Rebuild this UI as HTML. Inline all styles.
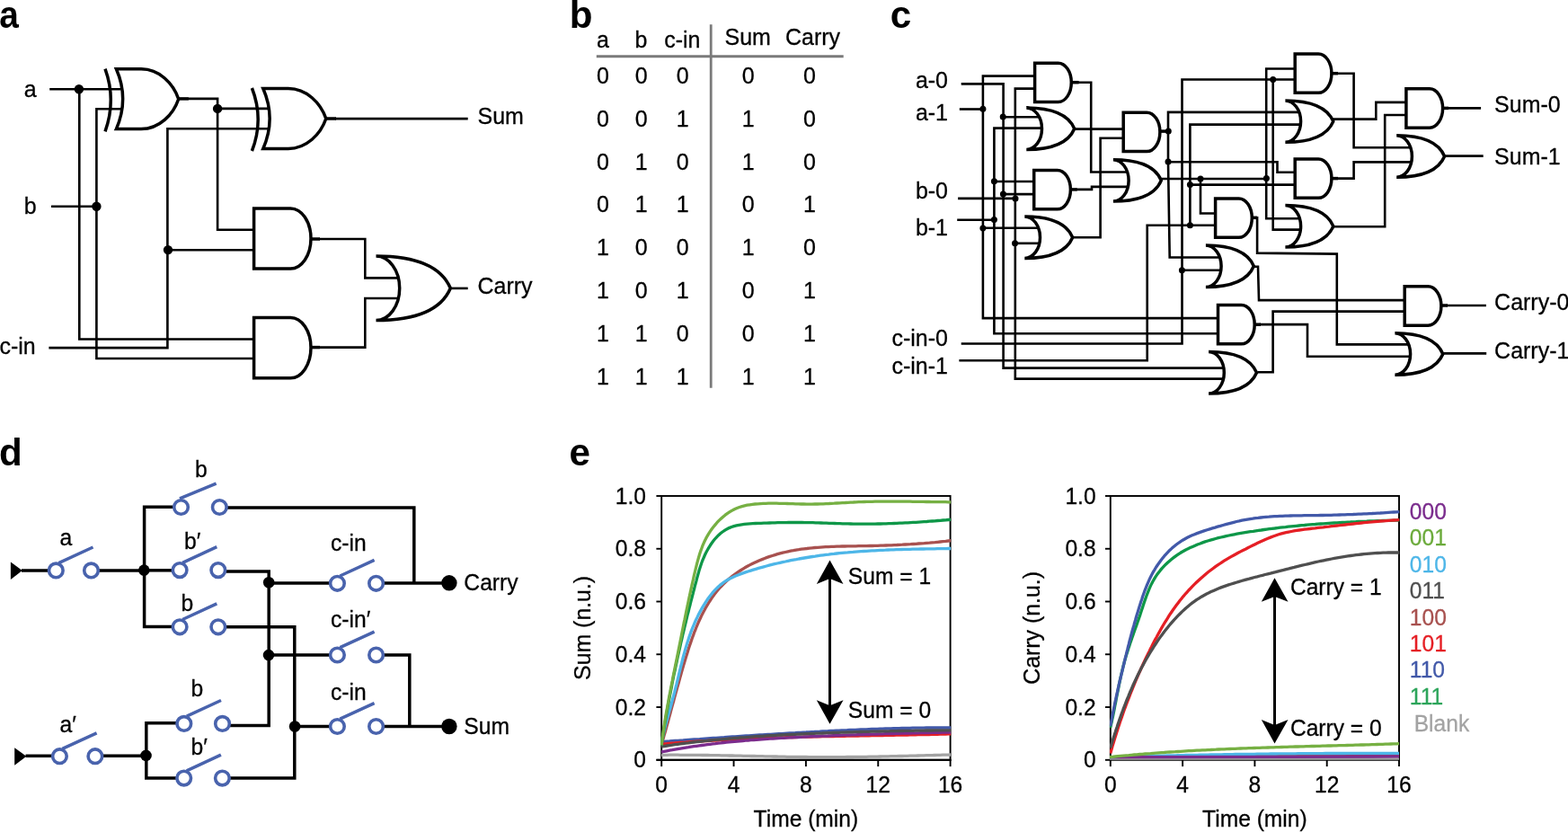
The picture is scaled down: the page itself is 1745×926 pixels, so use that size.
<!DOCTYPE html>
<html lang="en">
<head>
<meta charset="utf-8">
<title>Full adder logic circuits and switching circuit</title>
<style>
html,body{margin:0;padding:0;background:#fff;}
body{width:1745px;height:926px;overflow:hidden;}
svg{display:block;}
svg text{font-family:"Liberation Sans","DejaVu Sans",sans-serif;}
</style>
</head>
<body>
<svg width="1745" height="926" viewBox="0 0 1745 926">
<rect width="1745" height="926" fill="#fff"/>
<g id="panel-a">
<text transform="matrix(0.8995 0 0 1 -0.7 31.3)" font-size="43.16" font-weight="bold">a</text>
<text transform="matrix(0.9569 0 0 1 26.7 107.5)" font-size="26.12" stroke="#000" stroke-width="0.3">a</text>
<text transform="matrix(0.9569 0 0 1 26.7 238.4)" font-size="26.12" stroke="#000" stroke-width="0.3">b</text>
<text transform="matrix(0.9569 0 0 1 -0.5 393.8)" font-size="26.12" stroke="#000" stroke-width="0.3">c-in</text>
<text transform="matrix(0.9569 0 0 1 531.5 138.4)" font-size="26.12" stroke="#000" stroke-width="0.3">Sum</text>
<text transform="matrix(0.9569 0 0 1 531.5 326.5)" font-size="26.12" stroke="#000" stroke-width="0.3">Carry</text>
<path d="M55.2,99.3 H134" fill="none" stroke="#000" stroke-width="2.6"/>
<path d="M88.3,99.3 V377.5 H283" fill="none" stroke="#000" stroke-width="2.6"/>
<path d="M57,229.8 H107.4" fill="none" stroke="#000" stroke-width="2.6"/>
<path d="M136,121.2 H107.4 V399 H283" fill="none" stroke="#000" stroke-width="2.6"/>
<path d="M198.7,109.9 H209.7" fill="none" stroke="#000" stroke-width="3.5"/>
<path d="M209,109.9 H242.1 V255.7 H283" fill="none" stroke="#000" stroke-width="2.6"/>
<path d="M242.1,120.9 H298" fill="none" stroke="#000" stroke-width="2.6"/>
<path d="M298,143.2 H186.4 V387.1 H54.4" fill="none" stroke="#000" stroke-width="2.6"/>
<path d="M186.4,278.2 H283" fill="none" stroke="#000" stroke-width="2.6"/>
<path d="M362.5,132 H374" fill="none" stroke="#000" stroke-width="3.5"/>
<path d="M373,132.1 H520.7" fill="none" stroke="#000" stroke-width="2.6"/>
<path d="M346,266 H356" fill="none" stroke="#000" stroke-width="3.5"/>
<path d="M355,266 H406.3 V309.4 H442" fill="none" stroke="#000" stroke-width="2.6"/>
<path d="M346,386.6 H356" fill="none" stroke="#000" stroke-width="3.5"/>
<path d="M355,386.6 H406.3 V332 H442" fill="none" stroke="#000" stroke-width="2.6"/>
<path d="M500,320.9 H520.7" fill="none" stroke="#000" stroke-width="2.6"/>
<circle cx="87.9" cy="99.3" r="5.2" fill="#000"/>
<circle cx="107.4" cy="229.8" r="5.2" fill="#000"/>
<circle cx="242.1" cy="120.9" r="5.2" fill="#000"/>
<circle cx="187" cy="278.1" r="5.2" fill="#000"/>
<path d="M129.4,76.8 H157.12 C177.22,76.8 192.81,92.83 198.7,110.2 C192.81,127.57 177.22,143.6 157.12,143.6 H129.4 Q143.95,110.2 129.4,76.8 Z" fill="none" stroke="#000" stroke-width="3.5" stroke-linejoin="miter" stroke-miterlimit="10"/>
<path d="M117,76.7 Q129.6,111.5 117,146.3" fill="none" stroke="#000" stroke-width="3.5"/>
<path d="M292.8,98.5 H320.8 C341.1,98.5 356.85,114.58 362.8,132 C356.85,149.42 341.1,165.5 320.8,165.5 H292.8 Q307.5,132 292.8,98.5 Z" fill="none" stroke="#000" stroke-width="3.5" stroke-linejoin="miter" stroke-miterlimit="10"/>
<path d="M280.4,98 Q294,133 280.4,168" fill="none" stroke="#000" stroke-width="3.5"/>
<path d="M282.6,232 H323.3 C335.84,232 346,247 346,265.5 C346,284 335.84,299 323.3,299 H282.6 Z" fill="none" stroke="#000" stroke-width="3.5" stroke-linejoin="miter"/>
<path d="M282.6,353.4 H323.3 C335.84,353.4 346,368.49 346,387.1 C346,405.71 335.84,420.8 323.3,420.8 H282.6 Z" fill="none" stroke="#000" stroke-width="3.5" stroke-linejoin="miter"/>
<path d="M418.5,285 C470.66,285 493.02,301.22 501.3,320.8 C493.02,340.38 470.66,356.6 418.5,356.6 M418.5,285 A26.2,35.8 0 0 1 418.5,356.6" fill="none" stroke="#000" stroke-width="3.5" stroke-linejoin="miter" stroke-linecap="butt"/>
</g>
<g id="panel-b">
<text transform="matrix(0.9761 0 0 1 633.7 31.3)" font-size="43.16" font-weight="bold">b</text>
<text transform="matrix(0.9569 0 0 1 664 52.6)" font-size="26.12" stroke="#000" stroke-width="0.3">a</text>
<text transform="matrix(0.9569 0 0 1 706.5 52.6)" font-size="26.12" stroke="#000" stroke-width="0.3">b</text>
<text transform="matrix(0.9569 0 0 1 739.2 52.6)" font-size="26.12" stroke="#000" stroke-width="0.3">c-in</text>
<text transform="matrix(0.9569 0 0 1 806.5 50.3)" font-size="26.12" stroke="#000" stroke-width="0.3">Sum</text>
<text transform="matrix(0.9569 0 0 1 874 50.3)" font-size="26.12" stroke="#000" stroke-width="0.3">Carry</text>
<path d="M663.8,62.7 H938.7" fill="none" stroke="#7a7a7a" stroke-width="2.9"/>
<path d="M791.2,27.2 V431.7" fill="none" stroke="#7a7a7a" stroke-width="2.8"/>
<text transform="matrix(0.9569 0 0 1 670.9 92.7)" font-size="26.12" text-anchor="middle" stroke="#000" stroke-width="0.3">0</text>
<text transform="matrix(0.9569 0 0 1 713.7 92.7)" font-size="26.12" text-anchor="middle" stroke="#000" stroke-width="0.3">0</text>
<text transform="matrix(0.9569 0 0 1 759.8 92.7)" font-size="26.12" text-anchor="middle" stroke="#000" stroke-width="0.3">0</text>
<text transform="matrix(0.9569 0 0 1 832.8 92.7)" font-size="26.12" text-anchor="middle" stroke="#000" stroke-width="0.3">0</text>
<text transform="matrix(0.9569 0 0 1 901 92.7)" font-size="26.12" text-anchor="middle" stroke="#000" stroke-width="0.3">0</text>
<text transform="matrix(0.9569 0 0 1 670.9 140.6)" font-size="26.12" text-anchor="middle" stroke="#000" stroke-width="0.3">0</text>
<text transform="matrix(0.9569 0 0 1 713.7 140.6)" font-size="26.12" text-anchor="middle" stroke="#000" stroke-width="0.3">0</text>
<text transform="matrix(0.9569 0 0 1 759.8 140.6)" font-size="26.12" text-anchor="middle" stroke="#000" stroke-width="0.3">1</text>
<text transform="matrix(0.9569 0 0 1 832.8 140.6)" font-size="26.12" text-anchor="middle" stroke="#000" stroke-width="0.3">1</text>
<text transform="matrix(0.9569 0 0 1 901 140.6)" font-size="26.12" text-anchor="middle" stroke="#000" stroke-width="0.3">0</text>
<text transform="matrix(0.9569 0 0 1 670.9 188.5)" font-size="26.12" text-anchor="middle" stroke="#000" stroke-width="0.3">0</text>
<text transform="matrix(0.9569 0 0 1 713.7 188.5)" font-size="26.12" text-anchor="middle" stroke="#000" stroke-width="0.3">1</text>
<text transform="matrix(0.9569 0 0 1 759.8 188.5)" font-size="26.12" text-anchor="middle" stroke="#000" stroke-width="0.3">0</text>
<text transform="matrix(0.9569 0 0 1 832.8 188.5)" font-size="26.12" text-anchor="middle" stroke="#000" stroke-width="0.3">1</text>
<text transform="matrix(0.9569 0 0 1 901 188.5)" font-size="26.12" text-anchor="middle" stroke="#000" stroke-width="0.3">0</text>
<text transform="matrix(0.9569 0 0 1 670.9 236.4)" font-size="26.12" text-anchor="middle" stroke="#000" stroke-width="0.3">0</text>
<text transform="matrix(0.9569 0 0 1 713.7 236.4)" font-size="26.12" text-anchor="middle" stroke="#000" stroke-width="0.3">1</text>
<text transform="matrix(0.9569 0 0 1 759.8 236.4)" font-size="26.12" text-anchor="middle" stroke="#000" stroke-width="0.3">1</text>
<text transform="matrix(0.9569 0 0 1 832.8 236.4)" font-size="26.12" text-anchor="middle" stroke="#000" stroke-width="0.3">0</text>
<text transform="matrix(0.9569 0 0 1 901 236.4)" font-size="26.12" text-anchor="middle" stroke="#000" stroke-width="0.3">1</text>
<text transform="matrix(0.9569 0 0 1 670.9 284.3)" font-size="26.12" text-anchor="middle" stroke="#000" stroke-width="0.3">1</text>
<text transform="matrix(0.9569 0 0 1 713.7 284.3)" font-size="26.12" text-anchor="middle" stroke="#000" stroke-width="0.3">0</text>
<text transform="matrix(0.9569 0 0 1 759.8 284.3)" font-size="26.12" text-anchor="middle" stroke="#000" stroke-width="0.3">0</text>
<text transform="matrix(0.9569 0 0 1 832.8 284.3)" font-size="26.12" text-anchor="middle" stroke="#000" stroke-width="0.3">1</text>
<text transform="matrix(0.9569 0 0 1 901 284.3)" font-size="26.12" text-anchor="middle" stroke="#000" stroke-width="0.3">0</text>
<text transform="matrix(0.9569 0 0 1 670.9 332.2)" font-size="26.12" text-anchor="middle" stroke="#000" stroke-width="0.3">1</text>
<text transform="matrix(0.9569 0 0 1 713.7 332.2)" font-size="26.12" text-anchor="middle" stroke="#000" stroke-width="0.3">0</text>
<text transform="matrix(0.9569 0 0 1 759.8 332.2)" font-size="26.12" text-anchor="middle" stroke="#000" stroke-width="0.3">1</text>
<text transform="matrix(0.9569 0 0 1 832.8 332.2)" font-size="26.12" text-anchor="middle" stroke="#000" stroke-width="0.3">0</text>
<text transform="matrix(0.9569 0 0 1 901 332.2)" font-size="26.12" text-anchor="middle" stroke="#000" stroke-width="0.3">1</text>
<text transform="matrix(0.9569 0 0 1 670.9 380.1)" font-size="26.12" text-anchor="middle" stroke="#000" stroke-width="0.3">1</text>
<text transform="matrix(0.9569 0 0 1 713.7 380.1)" font-size="26.12" text-anchor="middle" stroke="#000" stroke-width="0.3">1</text>
<text transform="matrix(0.9569 0 0 1 759.8 380.1)" font-size="26.12" text-anchor="middle" stroke="#000" stroke-width="0.3">0</text>
<text transform="matrix(0.9569 0 0 1 832.8 380.1)" font-size="26.12" text-anchor="middle" stroke="#000" stroke-width="0.3">0</text>
<text transform="matrix(0.9569 0 0 1 901 380.1)" font-size="26.12" text-anchor="middle" stroke="#000" stroke-width="0.3">1</text>
<text transform="matrix(0.9569 0 0 1 670.9 428)" font-size="26.12" text-anchor="middle" stroke="#000" stroke-width="0.3">1</text>
<text transform="matrix(0.9569 0 0 1 713.7 428)" font-size="26.12" text-anchor="middle" stroke="#000" stroke-width="0.3">1</text>
<text transform="matrix(0.9569 0 0 1 759.8 428)" font-size="26.12" text-anchor="middle" stroke="#000" stroke-width="0.3">1</text>
<text transform="matrix(0.9569 0 0 1 832.8 428)" font-size="26.12" text-anchor="middle" stroke="#000" stroke-width="0.3">1</text>
<text transform="matrix(0.9569 0 0 1 901 428)" font-size="26.12" text-anchor="middle" stroke="#000" stroke-width="0.3">1</text>
</g>
<g id="panel-c">
<text transform="matrix(0.9761 0 0 1 990.8 31.3)" font-size="43.16" font-weight="bold">c</text>
<text transform="matrix(0.9569 0 0 1 1018.9 98.3)" font-size="26.12" stroke="#000" stroke-width="0.3">a-0</text>
<text transform="matrix(0.9569 0 0 1 1018.9 133.5)" font-size="26.12" stroke="#000" stroke-width="0.3">a-1</text>
<text transform="matrix(0.9569 0 0 1 1018.9 220.8)" font-size="26.12" stroke="#000" stroke-width="0.3">b-0</text>
<text transform="matrix(0.9569 0 0 1 1018.9 261.5)" font-size="26.12" stroke="#000" stroke-width="0.3">b-1</text>
<text transform="matrix(0.9569 0 0 1 992.5 385)" font-size="26.12" stroke="#000" stroke-width="0.3">c-in-0</text>
<text transform="matrix(0.9569 0 0 1 992.5 416.2)" font-size="26.12" stroke="#000" stroke-width="0.3">c-in-1</text>
<text transform="matrix(0.9569 0 0 1 1663.1 124.7)" font-size="26.12" stroke="#000" stroke-width="0.3">Sum-0</text>
<text transform="matrix(0.9569 0 0 1 1663.1 183.3)" font-size="26.12" stroke="#000" stroke-width="0.3">Sum-1</text>
<text transform="matrix(0.9569 0 0 1 1663.1 345.3)" font-size="26.12" stroke="#000" stroke-width="0.3">Carry-0</text>
<text transform="matrix(0.9569 0 0 1 1663.1 398.7)" font-size="26.12" stroke="#000" stroke-width="0.3">Carry-1</text>
<path d="M1069.7,93.4 H1116.6 V409.6 H1362" fill="none" stroke="#000" stroke-width="2.6"/>
<path d="M1116.3,130.3 H1156" fill="none" stroke="#000" stroke-width="2.6"/>
<path d="M1116.3,216.1 H1150.7" fill="none" stroke="#000" stroke-width="2.6"/>
<path d="M1067.8,121.5 H1093.9" fill="none" stroke="#000" stroke-width="2.6"/>
<path d="M1151.6,84.6 H1093.9 V354.1 H1355.5" fill="none" stroke="#000" stroke-width="2.6"/>
<path d="M1093.9,253.7 H1155" fill="none" stroke="#000" stroke-width="2.6"/>
<path d="M1066.1,220.9 H1130" fill="none" stroke="#000" stroke-width="2.6"/>
<path d="M1151.6,98.6 H1129.8 V421.6 H1363" fill="none" stroke="#000" stroke-width="2.6"/>
<path d="M1129.8,270.8 H1156" fill="none" stroke="#000" stroke-width="2.6"/>
<path d="M1065.2,244.8 H1106.4" fill="none" stroke="#000" stroke-width="2.6"/>
<path d="M1158,142.6 H1106.4 V371.3 H1355.5" fill="none" stroke="#000" stroke-width="2.6"/>
<path d="M1106.4,202 H1150.7" fill="none" stroke="#000" stroke-width="2.6"/>
<path d="M1069.7,382.5 H1315.5 V88.5 H1441.2" fill="none" stroke="#000" stroke-width="2.6"/>
<path d="M1315.5,300.7 H1358" fill="none" stroke="#000" stroke-width="2.6"/>
<path d="M1416.7,88.5 V255.6 H1446" fill="none" stroke="#000" stroke-width="2.6"/>
<path d="M1067.4,401.2 H1276.7 V250.7 H1352.6" fill="none" stroke="#000" stroke-width="2.6"/>
<path d="M1324.4,250.7 V138.6 H1447" fill="none" stroke="#000" stroke-width="2.6"/>
<path d="M1324.4,205.6 H1441.2" fill="none" stroke="#000" stroke-width="2.6"/>
<path d="M1193,91.7 H1200.6" fill="none" stroke="#000" stroke-width="3.5"/>
<path d="M1199.5,91.7 H1214.2 V191.5 H1254" fill="none" stroke="#000" stroke-width="2.6"/>
<path d="M1191,210.9 H1198.6" fill="none" stroke="#000" stroke-width="3.5"/>
<path d="M1197.5,210.9 H1215 V207.9 H1255" fill="none" stroke="#000" stroke-width="2.6"/>
<path d="M1196,143.6 H1250.2" fill="none" stroke="#000" stroke-width="2.6"/>
<path d="M1194.5,264.3 H1224.6 V153.7 H1250.2" fill="none" stroke="#000" stroke-width="2.6"/>
<path d="M1290.5,146.1 H1300" fill="none" stroke="#000" stroke-width="3.5"/>
<path d="M1445,124.9 H1300 V180 L1301.7,286.5 H1356" fill="none" stroke="#000" stroke-width="2.6"/>
<path d="M1300,180.2 H1421.5 V191.7 H1441.2" fill="none" stroke="#000" stroke-width="2.6"/>
<path d="M1292.6,199 H1409.3" fill="none" stroke="#000" stroke-width="2.6"/>
<path d="M1336,198.9 V237.5 H1352.6" fill="none" stroke="#000" stroke-width="2.6"/>
<path d="M1441.2,76.5 H1409.2 V243.3 H1445" fill="none" stroke="#000" stroke-width="2.6"/>
<path d="M1393,242.3 H1399" fill="none" stroke="#000" stroke-width="3.5"/>
<path d="M1398,242.3 H1399.1 V281.6 L1487.8,282.6 V383.4 H1568" fill="none" stroke="#000" stroke-width="2.6"/>
<path d="M1395.6,296.8 H1400 L1401,334.1 H1563.2" fill="none" stroke="#000" stroke-width="2.6"/>
<path d="M1396.5,361.2 H1403" fill="none" stroke="#000" stroke-width="3.5"/>
<path d="M1402,361.1 H1455 V396.8 H1569" fill="none" stroke="#000" stroke-width="2.6"/>
<path d="M1399.5,414.3 H1416.6 V346.6 H1563.2" fill="none" stroke="#000" stroke-width="2.6"/>
<path d="M1481.5,81.7 H1489" fill="none" stroke="#000" stroke-width="3.5"/>
<path d="M1488,81.7 H1506.6 V164.2 H1570" fill="none" stroke="#000" stroke-width="2.6"/>
<path d="M1481.5,198.6 H1489" fill="none" stroke="#000" stroke-width="3.5"/>
<path d="M1488,198.6 H1506.6 V180.4 H1570" fill="none" stroke="#000" stroke-width="2.6"/>
<path d="M1482.5,132.6 H1531.3 V113.9 H1564.9" fill="none" stroke="#000" stroke-width="2.6"/>
<path d="M1484.6,252.2 H1541.2 V128 H1564.9" fill="none" stroke="#000" stroke-width="2.6"/>
<path d="M1605.3,120.4 H1612" fill="none" stroke="#000" stroke-width="3.5"/>
<path d="M1611,120.4 H1648.1" fill="none" stroke="#000" stroke-width="2.6"/>
<path d="M1608,173.6 H1650.7" fill="none" stroke="#000" stroke-width="2.6"/>
<path d="M1603.8,340 H1611" fill="none" stroke="#000" stroke-width="3.5"/>
<path d="M1610,340 H1653.9" fill="none" stroke="#000" stroke-width="2.6"/>
<path d="M1606.5,393.4 H1654.2" fill="none" stroke="#000" stroke-width="2.6"/>
<circle cx="1116.2" cy="130.1" r="3.5" fill="#000"/>
<circle cx="1116.4" cy="216.1" r="3.5" fill="#000"/>
<circle cx="1093.9" cy="121.3" r="3.5" fill="#000"/>
<circle cx="1093.9" cy="253.9" r="3.5" fill="#000"/>
<circle cx="1130" cy="220.9" r="3.5" fill="#000"/>
<circle cx="1129.5" cy="270.8" r="3.5" fill="#000"/>
<circle cx="1106.4" cy="201.7" r="3.5" fill="#000"/>
<circle cx="1106.4" cy="244.6" r="3.5" fill="#000"/>
<circle cx="1416.7" cy="88.5" r="3.5" fill="#000"/>
<circle cx="1315.4" cy="300.7" r="3.5" fill="#000"/>
<circle cx="1324.4" cy="250.7" r="3.5" fill="#000"/>
<circle cx="1324.4" cy="205.6" r="3.5" fill="#000"/>
<circle cx="1300.3" cy="146.1" r="3.5" fill="#000"/>
<circle cx="1300" cy="180.1" r="3.5" fill="#000"/>
<circle cx="1336" cy="198.9" r="3.5" fill="#000"/>
<circle cx="1409.4" cy="198.6" r="3.5" fill="#000"/>
<path d="M1151.6,70.15 H1177.65 C1185.74,70.15 1192.3,79.84 1192.3,91.8 C1192.3,103.76 1185.74,113.45 1177.65,113.45 H1151.6 Z" fill="none" stroke="#000" stroke-width="3.5" stroke-linejoin="miter"/>
<path d="M1150.7,189.45 H1176.75 C1184.84,189.45 1191.4,199.14 1191.4,211.1 C1191.4,223.06 1184.84,232.75 1176.75,232.75 H1150.7 Z" fill="none" stroke="#000" stroke-width="3.5" stroke-linejoin="miter"/>
<path d="M1250.2,125.25 H1276.25 C1284.34,125.25 1290.9,134.94 1290.9,146.9 C1290.9,158.86 1284.34,168.55 1276.25,168.55 H1250.2 Z" fill="none" stroke="#000" stroke-width="3.5" stroke-linejoin="miter"/>
<path d="M1352.6,220.95 H1378.65 C1386.74,220.95 1393.3,230.64 1393.3,242.6 C1393.3,254.56 1386.74,264.25 1378.65,264.25 H1352.6 Z" fill="none" stroke="#000" stroke-width="3.5" stroke-linejoin="miter"/>
<path d="M1441.2,60.05 H1467.25 C1475.34,60.05 1481.9,69.74 1481.9,81.7 C1481.9,93.66 1475.34,103.35 1467.25,103.35 H1441.2 Z" fill="none" stroke="#000" stroke-width="3.5" stroke-linejoin="miter"/>
<path d="M1441.2,176.95 H1467.25 C1475.34,176.95 1481.9,186.64 1481.9,198.6 C1481.9,210.56 1475.34,220.25 1467.25,220.25 H1441.2 Z" fill="none" stroke="#000" stroke-width="3.5" stroke-linejoin="miter"/>
<path d="M1355.5,339.55 H1381.55 C1389.64,339.55 1396.2,349.24 1396.2,361.2 C1396.2,373.16 1389.64,382.85 1381.55,382.85 H1355.5 Z" fill="none" stroke="#000" stroke-width="3.5" stroke-linejoin="miter"/>
<path d="M1564.9,98.85 H1590.95 C1599.04,98.85 1605.6,108.54 1605.6,120.5 C1605.6,132.46 1599.04,142.15 1590.95,142.15 H1564.9 Z" fill="none" stroke="#000" stroke-width="3.5" stroke-linejoin="miter"/>
<path d="M1563.2,318.85 H1589.25 C1597.34,318.85 1603.9,328.54 1603.9,340.5 C1603.9,352.46 1597.34,362.15 1589.25,362.15 H1563.2 Z" fill="none" stroke="#000" stroke-width="3.5" stroke-linejoin="miter"/>
<path d="M1142.3,120 C1175.94,120 1190.36,130.51 1195.7,143.2 C1190.36,155.89 1175.94,166.4 1142.3,166.4 M1142.3,120 A17.2,23.2 0 0 1 1142.3,166.4" fill="none" stroke="#000" stroke-width="3.5" stroke-linejoin="miter" stroke-linecap="butt"/>
<path d="M1140.3,241 C1173.94,241 1188.36,251.51 1193.7,264.2 C1188.36,276.89 1173.94,287.4 1140.3,287.4 M1140.3,241 A17.2,23.2 0 0 1 1140.3,287.4" fill="none" stroke="#000" stroke-width="3.5" stroke-linejoin="miter" stroke-linecap="butt"/>
<path d="M1238.9,177.7 C1272.54,177.7 1286.96,188.21 1292.3,200.9 C1286.96,213.59 1272.54,224.1 1238.9,224.1 M1238.9,177.7 A17.2,23.2 0 0 1 1238.9,224.1" fill="none" stroke="#000" stroke-width="3.5" stroke-linejoin="miter" stroke-linecap="butt"/>
<path d="M1341.9,273.1 C1375.54,273.1 1389.96,283.61 1395.3,296.3 C1389.96,308.99 1375.54,319.5 1341.9,319.5 M1341.9,273.1 A17.2,23.2 0 0 1 1341.9,319.5" fill="none" stroke="#000" stroke-width="3.5" stroke-linejoin="miter" stroke-linecap="butt"/>
<path d="M1345.1,391.6 C1378.74,391.6 1393.16,402.11 1398.5,414.8 C1393.16,427.49 1378.74,438 1345.1,438 M1345.1,391.6 A17.2,23.2 0 0 1 1345.1,438" fill="none" stroke="#000" stroke-width="3.5" stroke-linejoin="miter" stroke-linecap="butt"/>
<path d="M1430.4,111.9 C1464.04,111.9 1478.46,122.41 1483.8,135.1 C1478.46,147.79 1464.04,158.3 1430.4,158.3 M1430.4,111.9 A17.2,23.2 0 0 1 1430.4,158.3" fill="none" stroke="#000" stroke-width="3.5" stroke-linejoin="miter" stroke-linecap="butt"/>
<path d="M1554.2,150.8 C1587.84,150.8 1602.26,161.31 1607.6,174 C1602.26,186.69 1587.84,197.2 1554.2,197.2 M1554.2,150.8 A17.2,23.2 0 0 1 1554.2,197.2" fill="none" stroke="#000" stroke-width="3.5" stroke-linejoin="miter" stroke-linecap="butt"/>
<path d="M1430.4,228.6 C1464.04,228.6 1478.46,239.11 1483.8,251.8 C1478.46,264.49 1464.04,275 1430.4,275 M1430.4,228.6 A17.2,23.2 0 0 1 1430.4,275" fill="none" stroke="#000" stroke-width="3.5" stroke-linejoin="miter" stroke-linecap="butt"/>
<path d="M1552.4,370.8 C1586.04,370.8 1600.46,381.31 1605.8,394 C1600.46,406.69 1586.04,417.2 1552.4,417.2 M1552.4,370.8 A17.2,23.2 0 0 1 1552.4,417.2" fill="none" stroke="#000" stroke-width="3.5" stroke-linejoin="miter" stroke-linecap="butt"/>
</g>
<g id="panel-d">
<text transform="matrix(0.9761 0 0 1 -0.9 518.3)" font-size="43.16" font-weight="bold">d</text>
<text transform="matrix(0.9569 0 0 1 66.5 607.4)" font-size="25.81" stroke="#000" stroke-width="0.3">a</text>
<text transform="matrix(0.9569 0 0 1 217 530.6)" font-size="25.81" stroke="#000" stroke-width="0.3">b</text>
<text transform="matrix(0.9569 0 0 1 205.1 611.1)" font-size="25.81" stroke="#000" stroke-width="0.3">b′</text>
<text transform="matrix(0.9569 0 0 1 201.4 679.5)" font-size="25.81" stroke="#000" stroke-width="0.3">b</text>
<text transform="matrix(0.9569 0 0 1 212.4 774.6)" font-size="25.81" stroke="#000" stroke-width="0.3">b</text>
<text transform="matrix(0.9569 0 0 1 66.5 814.7)" font-size="25.81" stroke="#000" stroke-width="0.3">a′</text>
<text transform="matrix(0.9569 0 0 1 212.4 840.4)" font-size="25.81" stroke="#000" stroke-width="0.3">b′</text>
<text transform="matrix(0.9569 0 0 1 368 612.6)" font-size="25.81" stroke="#000" stroke-width="0.3">c-in</text>
<text transform="matrix(0.9569 0 0 1 368 697.6)" font-size="25.81" stroke="#000" stroke-width="0.3">c-in′</text>
<text transform="matrix(0.9569 0 0 1 368 779.1)" font-size="25.81" stroke="#000" stroke-width="0.3">c-in</text>
<text transform="matrix(0.9569 0 0 1 516.3 656.7)" font-size="25.81" stroke="#000" stroke-width="0.3">Carry</text>
<text transform="matrix(0.9569 0 0 1 516.3 816.7)" font-size="25.81" stroke="#000" stroke-width="0.3">Sum</text>
<path d="M11.9,625.5 L24.8,635 L11.9,645.1 Z" fill="#000"/>
<path d="M16.2,832.2 L29.4,841.7 L16.2,851.8 Z" fill="#000"/>
<path d="M24,635 H53.5" fill="none" stroke="#000" stroke-width="3.5"/>
<path d="M110,635 H160.6" fill="none" stroke="#000" stroke-width="3.5"/>
<path d="M192.5,564.3 H160.6 V697.6 H191.5" fill="none" stroke="#000" stroke-width="3.5"/>
<path d="M160.6,634.8 H191.5" fill="none" stroke="#000" stroke-width="3.5"/>
<path d="M252.5,564.9 H460.8 V648.9" fill="none" stroke="#000" stroke-width="3.5"/>
<path d="M251.5,635.9 H299.2 V807.5 H256" fill="none" stroke="#000" stroke-width="3.5"/>
<path d="M251.8,697.8 H327.8 V866.1 H256" fill="none" stroke="#000" stroke-width="3.5"/>
<path d="M299,648.9 H366.8" fill="none" stroke="#000" stroke-width="3.5"/>
<path d="M427.2,648.9 H499" fill="none" stroke="#000" stroke-width="3.5"/>
<path d="M299,729 H366.8" fill="none" stroke="#000" stroke-width="3.5"/>
<path d="M427.2,729 H455.8 V808.5" fill="none" stroke="#000" stroke-width="3.5"/>
<path d="M328,808.5 H366.8" fill="none" stroke="#000" stroke-width="3.5"/>
<path d="M427.2,808.5 H499" fill="none" stroke="#000" stroke-width="3.5"/>
<path d="M28.5,841.3 H58" fill="none" stroke="#000" stroke-width="3.5"/>
<path d="M114.5,841.3 H162.6" fill="none" stroke="#000" stroke-width="3.5"/>
<path d="M196,804.8 H162.8 V866.1 H196" fill="none" stroke="#000" stroke-width="3.5"/>
<circle cx="160.3" cy="634.6" r="6.3" fill="#000"/>
<circle cx="299.2" cy="648.3" r="6.3" fill="#000"/>
<circle cx="299" cy="729.1" r="6.3" fill="#000"/>
<circle cx="328.1" cy="808.5" r="6.3" fill="#000"/>
<circle cx="162.5" cy="840.9" r="6.3" fill="#000"/>
<circle cx="499.9" cy="648.8" r="8.7" fill="#000"/>
<circle cx="499.9" cy="808.5" r="8.7" fill="#000"/>
<circle cx="62.3" cy="634.9" r="7.8" fill="none" stroke="#4963AD" stroke-width="3.6"/>
<circle cx="101.5" cy="634.9" r="7.8" fill="none" stroke="#4963AD" stroke-width="3.6"/>
<path d="M65.3,626.6 L103.5,609" stroke="#4963AD" stroke-width="3.5" fill="none"/>
<circle cx="201.5" cy="564.5" r="7.8" fill="none" stroke="#4963AD" stroke-width="3.6"/>
<circle cx="244.3" cy="564.5" r="7.8" fill="none" stroke="#4963AD" stroke-width="3.6"/>
<path d="M200,554.9 L240.6,538.1" stroke="#4963AD" stroke-width="3.5" fill="none"/>
<circle cx="200.1" cy="634.6" r="7.8" fill="none" stroke="#4963AD" stroke-width="3.6"/>
<circle cx="242.8" cy="634.6" r="7.8" fill="none" stroke="#4963AD" stroke-width="3.6"/>
<path d="M203.1,626.3 L241.3,608.7" stroke="#4963AD" stroke-width="3.5" fill="none"/>
<circle cx="200.1" cy="697.8" r="7.8" fill="none" stroke="#4963AD" stroke-width="3.6"/>
<circle cx="242.8" cy="697.8" r="7.8" fill="none" stroke="#4963AD" stroke-width="3.6"/>
<path d="M203.1,689.5 L241.3,671.9" stroke="#4963AD" stroke-width="3.5" fill="none"/>
<circle cx="204.8" cy="805.4" r="7.8" fill="none" stroke="#4963AD" stroke-width="3.6"/>
<circle cx="247.5" cy="805.4" r="7.8" fill="none" stroke="#4963AD" stroke-width="3.6"/>
<path d="M207.8,797.1 L246,779.5" stroke="#4963AD" stroke-width="3.5" fill="none"/>
<circle cx="204.7" cy="866.1" r="7.8" fill="none" stroke="#4963AD" stroke-width="3.6"/>
<circle cx="247.4" cy="866.1" r="7.8" fill="none" stroke="#4963AD" stroke-width="3.6"/>
<path d="M207.7,857.8 L245.9,840.2" stroke="#4963AD" stroke-width="3.5" fill="none"/>
<circle cx="66.4" cy="841.7" r="7.8" fill="none" stroke="#4963AD" stroke-width="3.6"/>
<circle cx="105.9" cy="841.7" r="7.8" fill="none" stroke="#4963AD" stroke-width="3.6"/>
<path d="M69.4,833.4 L107.6,815.8" stroke="#4963AD" stroke-width="3.5" fill="none"/>
<circle cx="375.4" cy="649.3" r="7.8" fill="none" stroke="#4963AD" stroke-width="3.6"/>
<circle cx="418.6" cy="649.3" r="7.8" fill="none" stroke="#4963AD" stroke-width="3.6"/>
<path d="M378.4,641 L416.6,623.4" stroke="#4963AD" stroke-width="3.5" fill="none"/>
<circle cx="375.4" cy="729" r="7.8" fill="none" stroke="#4963AD" stroke-width="3.6"/>
<circle cx="418.6" cy="729" r="7.8" fill="none" stroke="#4963AD" stroke-width="3.6"/>
<path d="M378.4,720.7 L416.6,703.1" stroke="#4963AD" stroke-width="3.5" fill="none"/>
<circle cx="375.4" cy="808.5" r="7.8" fill="none" stroke="#4963AD" stroke-width="3.6"/>
<circle cx="418.6" cy="808.5" r="7.8" fill="none" stroke="#4963AD" stroke-width="3.6"/>
<path d="M378.4,800.2 L416.6,782.6" stroke="#4963AD" stroke-width="3.5" fill="none"/>
</g>
<g id="panel-e">
<text transform="matrix(0.9761 0 0 1 633.6 518.3)" font-size="43.16" font-weight="bold">e</text>
<clipPath id="clipL"><rect x="735.2" y="552" width="323.4" height="293.8"/></clipPath>
<clipPath id="clipR"><rect x="1234.9" y="552" width="323.1" height="293.8"/></clipPath>
<rect x="736.2" y="552" width="321.4" height="293.8" fill="none" stroke="#000" stroke-width="1.9"/>
<path d="M730.4,845.8 H736.2" fill="none" stroke="#000" stroke-width="1.9"/>
<text transform="matrix(0.9569 0 0 1 719 854.4)" font-size="25.71" text-anchor="end" stroke="#000" stroke-width="0.3">0</text>
<path d="M730.4,787.04 H736.2" fill="none" stroke="#000" stroke-width="1.9"/>
<text transform="matrix(0.9569 0 0 1 719 795.64)" font-size="25.71" text-anchor="end" stroke="#000" stroke-width="0.3">0.2</text>
<path d="M730.4,728.28 H736.2" fill="none" stroke="#000" stroke-width="1.9"/>
<text transform="matrix(0.9569 0 0 1 719 736.88)" font-size="25.71" text-anchor="end" stroke="#000" stroke-width="0.3">0.4</text>
<path d="M730.4,669.52 H736.2" fill="none" stroke="#000" stroke-width="1.9"/>
<text transform="matrix(0.9569 0 0 1 719 678.12)" font-size="25.71" text-anchor="end" stroke="#000" stroke-width="0.3">0.6</text>
<path d="M730.4,610.76 H736.2" fill="none" stroke="#000" stroke-width="1.9"/>
<text transform="matrix(0.9569 0 0 1 719 619.36)" font-size="25.71" text-anchor="end" stroke="#000" stroke-width="0.3">0.8</text>
<path d="M730.4,552 H736.2" fill="none" stroke="#000" stroke-width="1.9"/>
<text transform="matrix(0.9569 0 0 1 719 560.6)" font-size="25.71" text-anchor="end" stroke="#000" stroke-width="0.3">1.0</text>
<path d="M736.2,845.8 V853.1" fill="none" stroke="#000" stroke-width="1.9"/>
<text transform="matrix(0.9569 0 0 1 736.2 881.5)" font-size="25.71" text-anchor="middle" stroke="#000" stroke-width="0.3">0</text>
<path d="M816.55,845.8 V853.1" fill="none" stroke="#000" stroke-width="1.9"/>
<text transform="matrix(0.9569 0 0 1 816.55 881.5)" font-size="25.71" text-anchor="middle" stroke="#000" stroke-width="0.3">4</text>
<path d="M896.9,845.8 V853.1" fill="none" stroke="#000" stroke-width="1.9"/>
<text transform="matrix(0.9569 0 0 1 896.9 881.5)" font-size="25.71" text-anchor="middle" stroke="#000" stroke-width="0.3">8</text>
<path d="M977.25,845.8 V853.1" fill="none" stroke="#000" stroke-width="1.9"/>
<text transform="matrix(0.9569 0 0 1 977.25 881.5)" font-size="25.71" text-anchor="middle" stroke="#000" stroke-width="0.3">12</text>
<path d="M1057.6,845.8 V853.1" fill="none" stroke="#000" stroke-width="1.9"/>
<text transform="matrix(0.9569 0 0 1 1057.6 881.5)" font-size="25.71" text-anchor="middle" stroke="#000" stroke-width="0.3">16</text>
<text transform="matrix(0.9569 0 0 1 896.9 919.8)" font-size="25.71" text-anchor="middle" stroke="#000" stroke-width="0.3">Time (min)</text>
<text transform="translate(657,698.9) rotate(-90) scale(0.96,1)" font-size="25.92" text-anchor="middle" stroke="#000" stroke-width="0.3">Sum (n.u.)</text>
<g clip-path="url(#clipL)" fill="none" stroke-width="3.3" stroke-linejoin="round">
<path d="M736.05,840.29 L739.1,840.3 742.1,840.3 745.2,840.2 748.2,840.2 751.3,840.2 754.3,840.2 757.3,840.3 760.4,840.3 763.4,840.3 766.5,840.3 769.5,840.3 772.5,840.4 775.6,840.4 778.6,840.4 781.7,840.5 784.7,840.5 787.7,840.5 790.8,840.6 793.8,840.6 796.9,840.7 799.9,840.7 802.9,840.8 806,840.9 809,840.9 812.1,841 815.1,841 818.1,841.1 821.2,841.2 824.2,841.2 827.3,841.3 830.3,841.4 833.3,841.4 836.4,841.5 839.4,841.5 842.5,841.6 845.5,841.7 848.6,841.7 851.6,841.8 854.6,841.9 857.7,841.9 860.7,842 863.8,842 866.8,842.1 869.8,842.1 872.9,842.2 875.9,842.3 879,842.3 882,842.3 885,842.4 888.1,842.4 891.1,842.5 894.2,842.5 897.2,842.5 900.2,842.6 903.3,842.6 906.3,842.6 909.4,842.6 912.4,842.6 915.4,842.6 918.5,842.6 921.5,842.6 924.6,842.6 927.6,842.6 930.6,842.6 933.7,842.6 936.7,842.6 939.8,842.6 942.8,842.5 945.8,842.5 948.9,842.5 951.9,842.4 955,842.4 958,842.4 961,842.3 964.1,842.3 967.1,842.2 970.2,842.2 973.2,842.1 976.2,842.1 979.3,842 982.3,841.9 985.4,841.9 988.4,841.8 991.4,841.7 994.5,841.7 997.5,841.6 1000.6,841.5 1003.6,841.5 1006.6,841.4 1009.7,841.3 1012.7,841.2 1015.8,841.2 1018.8,841.1 1021.8,841 1024.9,840.9 1027.9,840.8 1031,840.7 1034,840.7 1037.1,840.6 1040.1,840.5 1043.1,840.4 1046.2,840.3 1049.2,840.2 1052.3,840.2 1055.3,840.1 1058.3,840" stroke="#A3A3A3"/>
<path d="M736.05,825.63 L739.1,825.4 742.1,825.2 745.2,825 748.2,824.7 751.2,824.5 754.3,824.3 757.3,824.1 760.3,823.9 763.4,823.6 766.4,823.4 769.4,823.2 772.5,823 775.5,822.8 778.6,822.6 781.6,822.3 784.6,822.1 787.7,821.9 790.7,821.7 793.7,821.5 796.8,821.3 799.8,821.1 802.9,820.9 805.9,820.7 808.9,820.4 812,820.2 815,820 818,819.8 821.1,819.6 824.1,819.4 827.2,819.2 830.2,819 833.2,818.8 836.3,818.6 839.3,818.4 842.4,818.2 845.4,818 848.4,817.9 851.5,817.7 854.5,817.5 857.6,817.3 860.6,817.1 863.6,816.9 866.7,816.7 869.7,816.6 872.8,816.4 875.8,816.2 878.8,816 881.9,815.8 884.9,815.7 888,815.5 891,815.3 894,815.1 897.1,815 900.1,814.8 903.2,814.6 906.2,814.5 909.2,814.3 912.3,814.2 915.3,814 918.4,813.8 921.4,813.7 924.4,813.5 927.5,813.4 930.5,813.2 933.6,813.1 936.6,812.9 939.7,812.8 942.7,812.7 945.7,812.5 948.8,812.4 951.8,812.3 954.9,812.1 957.9,812 961,811.9 964,811.8 967,811.6 970.1,811.5 973.1,811.4 976.2,811.3 979.2,811.2 982.2,811.1 985.3,811 988.3,810.9 991.4,810.8 994.4,810.7 997.5,810.6 1000.5,810.6 1003.6,810.5 1006.6,810.4 1009.6,810.4 1012.7,810.3 1015.7,810.2 1018.8,810.2 1021.8,810.1 1024.9,810.1 1027.9,810.1 1030.9,810 1034,810 1037,810 1040.1,810 1043.1,810 1046.2,810 1049.2,810 1052.2,810 1055.3,810 1058.3,810" stroke="#4259A9"/>
<path d="M736.05,828.21 L739.1,827.9 742.1,827.7 745.1,827.4 748.2,827.2 751.2,827 754.2,826.7 757.3,826.5 760.3,826.3 763.4,826.1 766.4,825.8 769.4,825.6 772.5,825.4 775.5,825.2 778.5,825 781.6,824.8 784.6,824.7 787.6,824.5 790.7,824.3 793.7,824.1 796.8,824 799.8,823.8 802.8,823.6 805.9,823.5 808.9,823.3 811.9,823.2 815,823 818,822.9 821.1,822.7 824.1,822.6 827.1,822.5 830.2,822.3 833.2,822.2 836.3,822.1 839.3,822 842.3,821.8 845.4,821.7 848.4,821.6 851.5,821.5 854.5,821.4 857.5,821.3 860.6,821.2 863.6,821.1 866.7,821 869.7,820.9 872.7,820.8 875.8,820.7 878.8,820.6 881.9,820.6 884.9,820.5 888,820.4 891,820.3 894,820.2 897.1,820.2 900.1,820.1 903.2,820 906.2,819.9 909.3,819.9 912.3,819.8 915.3,819.7 918.4,819.7 921.4,819.6 924.5,819.5 927.5,819.5 930.6,819.4 933.6,819.4 936.6,819.3 939.7,819.3 942.7,819.2 945.8,819.1 948.8,819.1 951.9,819 954.9,819 957.9,818.9 961,818.9 964,818.8 967.1,818.8 970.1,818.7 973.2,818.6 976.2,818.6 979.2,818.5 982.3,818.5 985.3,818.4 988.4,818.4 991.4,818.3 994.5,818.3 997.5,818.2 1000.5,818.2 1003.6,818.1 1006.6,818 1009.7,818 1012.7,817.9 1015.8,817.9 1018.8,817.8 1021.8,817.7 1024.9,817.7 1027.9,817.6 1031,817.5 1034,817.5 1037,817.4 1040.1,817.3 1043.1,817.3 1046.2,817.2 1049.2,817.1 1052.3,817 1055.3,816.9 1058.3,816.9" stroke="#E51F25"/>
<path d="M736.04,836.96 L739,836.4 742,835.8 745.1,835.2 748.1,834.7 751.1,834.1 754.1,833.6 757.1,833.1 760.1,832.6 763.1,832.1 766.1,831.7 769.1,831.2 772.2,830.7 775.2,830.3 778.2,829.9 781.2,829.5 784.2,829.1 787.3,828.7 790.3,828.3 793.3,827.9 796.3,827.6 799.4,827.2 802.4,826.9 805.4,826.5 808.5,826.2 811.5,825.9 814.5,825.6 817.5,825.3 820.6,825 823.6,824.8 826.7,824.5 829.7,824.2 832.7,824 835.8,823.7 838.8,823.5 841.8,823.3 844.9,823 847.9,822.8 851,822.6 854,822.4 857,822.2 860.1,822 863.1,821.8 866.2,821.6 869.2,821.4 872.3,821.3 875.3,821.1 878.4,820.9 881.4,820.8 884.5,820.6 887.5,820.5 890.6,820.3 893.6,820.2 896.7,820 899.7,819.9 902.8,819.7 905.8,819.6 908.9,819.5 911.9,819.3 915,819.2 918,819.1 921.1,819 924.1,818.8 927.2,818.7 930.2,818.6 933.3,818.5 936.3,818.4 939.4,818.2 942.4,818.1 945.5,818 948.5,817.9 951.6,817.8 954.6,817.7 957.7,817.6 960.7,817.5 963.8,817.4 966.9,817.3 969.9,817.2 973,817.1 976,817 979.1,816.9 982.1,816.8 985.2,816.7 988.2,816.6 991.3,816.6 994.3,816.5 997.4,816.4 1000.4,816.3 1003.5,816.2 1006.5,816.1 1009.6,816.1 1012.6,816 1015.7,815.9 1018.7,815.9 1021.8,815.8 1024.8,815.7 1027.9,815.6 1030.9,815.6 1034,815.5 1037,815.4 1040.1,815.4 1043.1,815.3 1046.2,815.3 1049.2,815.2 1052.2,815.2 1055.3,815.1 1058.3,815" stroke="#7B2C8D"/>
<path d="M736.04,830.92 L739.1,830.5 742.1,830 745.1,829.6 748.1,829.2 751.1,828.7 754.2,828.3 757.2,827.9 760.2,827.5 763.2,827.1 766.2,826.8 769.3,826.4 772.3,826 775.3,825.7 778.4,825.3 781.4,825 784.4,824.7 787.4,824.4 790.5,824 793.5,823.7 796.5,823.4 799.6,823.1 802.6,822.9 805.6,822.6 808.7,822.3 811.7,822 814.7,821.8 817.8,821.5 820.8,821.3 823.8,821 826.9,820.8 829.9,820.6 832.9,820.3 836,820.1 839,819.9 842.1,819.7 845.1,819.5 848.1,819.3 851.2,819.1 854.2,818.9 857.3,818.7 860.3,818.6 863.4,818.4 866.4,818.2 869.4,818 872.5,817.9 875.5,817.7 878.6,817.6 881.6,817.4 884.7,817.3 887.7,817.1 890.7,817 893.8,816.8 896.8,816.7 899.9,816.6 902.9,816.4 906,816.3 909,816.2 912.1,816.1 915.1,816 918.2,815.8 921.2,815.7 924.3,815.6 927.3,815.5 930.4,815.4 933.4,815.3 936.5,815.2 939.5,815.1 942.6,815 945.6,814.9 948.7,814.8 951.7,814.7 954.7,814.6 957.8,814.5 960.8,814.4 963.9,814.4 966.9,814.3 970,814.2 973,814.1 976.1,814.1 979.1,814 982.2,813.9 985.2,813.8 988.3,813.8 991.3,813.7 994.4,813.6 997.4,813.6 1000.5,813.5 1003.5,813.5 1006.6,813.4 1009.6,813.4 1012.7,813.3 1015.7,813.3 1018.8,813.2 1021.8,813.2 1024.8,813.1 1027.9,813.1 1030.9,813 1034,813 1037,813 1040.1,812.9 1043.1,812.9 1046.2,812.9 1049.2,812.8 1052.2,812.8 1055.3,812.8 1058.3,812.8" stroke="#4F4F4F"/>
<path d="M736.04,829.43 L736.9,826.4 737.8,823.4 738.6,820.4 739.4,817.4 740.3,814.5 741.1,811.5 741.9,808.6 742.7,805.7 743.5,802.7 744.3,799.8 745.1,796.9 745.9,794.1 746.6,791.2 747.4,788.3 748.2,785.4 749,782.6 749.8,779.7 750.5,776.8 751.3,774 752.1,771.1 752.9,768.3 753.7,765.4 754.5,762.5 755.3,759.7 756.1,756.8 756.9,753.9 757.7,751 758.5,748.1 759.3,745.2 760.2,742.3 761,739.4 761.9,736.5 762.8,733.6 763.7,730.6 764.6,727.7 765.5,724.7 766.4,721.8 767.4,718.8 768.4,715.9 769.4,713 770.4,710 771.5,707.1 772.5,704.2 773.7,701.3 774.8,698.5 776,695.6 777.2,692.8 778.5,690 779.8,687.2 781.1,684.4 782.5,681.7 784,679 785.4,676.3 787,673.7 788.5,671.1 790.2,668.5 791.8,666 793.6,663.5 795.4,661.1 797.2,658.7 799.1,656.4 801.1,654.2 803.2,652 805.3,649.9 807.4,647.8 809.6,645.8 811.9,643.8 814.2,641.9 816.6,640.1 819,638.3 821.4,636.6 823.9,635 826.5,633.4 829,631.8 831.7,630.3 834.3,628.9 837,627.5 839.7,626.2 842.5,624.9 845.2,623.7 848.1,622.6 850.9,621.5 853.7,620.4 856.6,619.4 859.5,618.5 862.4,617.6 865.3,616.7 868.2,615.9 871.1,615.2 874.1,614.5 877,613.8 880,613.2 883,612.7 885.9,612.1 888.9,611.7 891.9,611.2 894.9,610.8 897.9,610.5 900.9,610.1 903.9,609.8 906.9,609.5 909.9,609.3 912.9,609.1 915.9,608.9 918.9,608.7 922,608.6 925,608.4 928,608.3 931.1,608.2 934.1,608.1 937.1,608 940.2,608 943.2,607.9 946.3,607.9 949.3,607.8 952.4,607.8 955.4,607.7 958.5,607.7 961.5,607.6 964.6,607.6 967.6,607.5 970.7,607.5 973.8,607.4 976.8,607.3 979.9,607.2 982.9,607.1 986,607 989,606.9 992.1,606.8 995.1,606.6 998.2,606.5 1001.2,606.3 1004.2,606.2 1007.3,606 1010.3,605.8 1013.3,605.7 1016.4,605.5 1019.4,605.3 1022.4,605 1025.4,604.8 1028.5,604.6 1031.5,604.3 1034.5,604.1 1037.5,603.8 1040.5,603.6 1043.5,603.3 1046.4,603 1049.4,602.7 1052.4,602.4 1055.4,602 1058.3,601.7" stroke="#A8514F"/>
<path d="M736.04,826.4 L736.7,823.5 737.3,820.6 738,817.6 738.8,814.7 739.5,811.8 740.2,808.8 741,805.9 741.8,802.9 742.6,800 743.4,797 744.2,794.1 745,791.1 745.9,788.2 746.7,785.2 747.5,782.3 748.3,779.3 749.1,776.4 749.9,773.5 750.7,770.5 751.4,767.6 752.1,764.6 752.9,761.7 753.6,758.7 754.3,755.8 755,752.9 755.7,749.9 756.4,747 757.1,744.1 757.8,741.2 758.6,738.2 759.3,735.3 760,732.4 760.8,729.5 761.6,726.6 762.4,723.8 763.2,720.9 764.1,718 765,715.1 765.9,712.3 766.8,709.4 767.8,706.6 768.8,703.7 769.9,700.9 771,698.1 772.2,695.3 773.4,692.5 774.6,689.7 776,686.9 777.3,684.1 778.8,681.4 780.3,678.6 781.8,675.9 783.5,673.1 785.2,670.5 786.9,667.8 788.7,665.2 790.6,662.7 792.6,660.2 794.6,657.9 796.7,655.6 798.9,653.5 801.2,651.4 803.5,649.6 805.8,647.8 808.3,646.2 810.8,644.8 813.4,643.4 816,642.2 818.6,641 821.3,640 824.1,638.9 826.9,637.9 829.7,636.9 832.5,636 835.4,635.1 838.3,634.2 841.2,633.3 844.1,632.4 847.1,631.6 850,630.8 853,630 856,629.2 859,628.4 862,627.7 865,627 868,626.3 871,625.6 874,625 877.1,624.3 880.1,623.7 883.1,623.1 886.1,622.6 889.1,622 892.1,621.5 895.1,621 898.1,620.5 901.2,620 904.2,619.5 907.2,619.1 910.2,618.6 913.2,618.2 916.2,617.8 919.2,617.4 922.2,617.1 925.2,616.7 928.2,616.4 931.2,616 934.2,615.7 937.3,615.4 940.3,615.1 943.3,614.9 946.3,614.6 949.3,614.4 952.3,614.1 955.3,613.9 958.3,613.7 961.3,613.5 964.3,613.3 967.3,613.1 970.4,612.9 973.4,612.8 976.4,612.6 979.4,612.4 982.4,612.3 985.4,612.2 988.5,612 991.5,611.9 994.5,611.8 997.5,611.7 1000.5,611.6 1003.6,611.5 1006.6,611.4 1009.6,611.4 1012.7,611.3 1015.7,611.2 1018.7,611.1 1021.8,611.1 1024.8,611 1027.8,611 1030.9,610.9 1033.9,610.9 1037,610.8 1040,610.8 1043.1,610.7 1046.1,610.7 1049.2,610.6 1052.2,610.6 1055.3,610.5 1058.3,610.5" stroke="#4DB6E8"/>
<path d="M736.05,829.72 L736.5,826.8 736.9,823.8 737.4,820.9 737.9,817.9 738.3,814.9 738.8,812 739.3,809 739.8,806 740.3,803.1 740.8,800.1 741.3,797.1 741.8,794.2 742.3,791.2 742.9,788.2 743.4,785.2 744,782.3 744.5,779.3 745.1,776.3 745.6,773.3 746.2,770.4 746.8,767.4 747.4,764.4 747.9,761.4 748.5,758.5 749.1,755.5 749.7,752.5 750.3,749.5 751,746.6 751.6,743.6 752.2,740.6 752.9,737.6 753.5,734.7 754.1,731.7 754.8,728.7 755.4,725.8 756.1,722.8 756.8,719.8 757.4,716.9 758.1,713.9 758.8,711 759.5,708 760.2,705 760.9,702.1 761.6,699.1 762.3,696.2 763,693.3 763.7,690.3 764.4,687.4 765.1,684.4 765.9,681.5 766.6,678.6 767.3,675.7 768.1,672.7 768.8,669.8 769.6,666.9 770.3,664 771.1,661.1 771.8,658.2 772.6,655.3 773.3,652.4 774.1,649.5 774.9,646.6 775.6,643.7 776.4,640.8 777.2,638 778,635.1 778.9,632.2 779.8,629.4 780.8,626.5 781.9,623.7 783.1,620.8 784.3,618 785.6,615.3 787.1,612.5 788.6,609.9 790.2,607.3 791.9,604.8 793.7,602.3 795.5,600 797.5,597.8 799.6,595.7 801.7,593.8 804,592 806.4,590.4 808.8,588.9 811.4,587.6 814.1,586.5 816.8,585.6 819.6,584.9 822.6,584.3 825.5,583.8 828.5,583.4 831.6,583.1 834.7,582.9 837.8,582.7 840.9,582.5 844,582.4 847,582.3 850.1,582.2 853.2,582.1 856.3,582 859.3,581.9 862.4,581.8 865.4,581.7 868.5,581.7 871.5,581.6 874.6,581.6 877.6,581.5 880.6,581.5 883.6,581.5 886.7,581.5 889.7,581.5 892.7,581.5 895.7,581.6 898.7,581.6 901.7,581.7 904.7,581.7 907.7,581.8 910.7,581.9 913.7,582 916.7,582.1 919.7,582.2 922.7,582.3 925.7,582.4 928.7,582.5 931.7,582.6 934.7,582.7 937.7,582.8 940.7,582.9 943.7,582.9 946.7,583 949.7,583.1 952.8,583.1 955.8,583.1 958.8,583.2 961.8,583.2 964.8,583.2 967.8,583.1 970.9,583.1 973.9,583.1 976.9,583 979.9,583 983,582.9 986,582.8 989,582.7 992,582.6 995.1,582.5 998.1,582.4 1001.1,582.2 1004.1,582.1 1007.2,581.9 1010.2,581.8 1013.2,581.6 1016.2,581.4 1019.3,581.3 1022.3,581.1 1025.3,580.9 1028.3,580.7 1031.3,580.5 1034.3,580.2 1037.3,580 1040.4,579.8 1043.4,579.5 1046.4,579.3 1049.4,579 1052.4,578.8 1055.3,578.5 1058.3,578.3" stroke="#0E9748"/>
<path d="M736.05,829.43 L736.4,826.3 736.9,823.2 737.3,820.2 737.7,817.1 738.2,814.1 738.6,811.1 739.1,808 739.6,805 740,802 740.5,799.1 741,796.1 741.5,793.1 742.1,790.2 742.6,787.2 743.1,784.3 743.7,781.3 744.2,778.4 744.7,775.5 745.3,772.6 745.9,769.6 746.4,766.7 747,763.8 747.6,760.9 748.2,758 748.7,755 749.3,752.1 749.9,749.2 750.5,746.3 751.1,743.3 751.7,740.4 752.3,737.4 752.9,734.5 753.5,731.5 754.1,728.6 754.7,725.6 755.3,722.6 755.9,719.6 756.5,716.6 757.1,713.6 757.7,710.6 758.3,707.6 758.9,704.5 759.5,701.5 760.1,698.5 760.7,695.5 761.3,692.4 762,689.4 762.6,686.4 763.2,683.3 763.8,680.3 764.4,677.3 765.1,674.2 765.7,671.2 766.3,668.2 767,665.2 767.6,662.2 768.3,659.2 768.9,656.2 769.6,653.2 770.2,650.3 770.9,647.3 771.6,644.4 772.2,641.4 772.9,638.5 773.6,635.6 774.3,632.7 775,629.8 775.7,627 776.5,624.1 777.3,621.3 778.1,618.5 778.9,615.7 779.9,612.9 780.9,610.2 781.9,607.4 783.1,604.7 784.3,602 785.6,599.4 787,596.8 788.6,594.1 790.2,591.6 792,589 793.9,586.5 795.9,584.1 797.9,581.7 800.1,579.4 802.4,577.3 804.7,575.2 807.1,573.2 809.6,571.4 812.2,569.7 814.8,568.1 817.4,566.7 820.2,565.5 822.9,564.5 825.7,563.6 828.6,562.9 831.5,562.2 834.4,561.8 837.3,561.4 840.3,561 843.2,560.8 846.2,560.6 849.2,560.4 852.2,560.3 855.2,560.2 858.2,560.2 861.2,560.2 864.2,560.2 867.2,560.3 870.2,560.3 873.3,560.4 876.3,560.5 879.3,560.6 882.4,560.7 885.4,560.8 888.5,560.9 891.5,561 894.6,561 897.7,561.1 900.7,561.1 903.8,561.1 906.9,561 909.9,561 913,560.9 916.1,560.8 919.1,560.6 922.2,560.5 925.2,560.3 928.3,560.2 931.4,560 934.4,559.8 937.5,559.6 940.5,559.5 943.6,559.3 946.6,559.1 949.6,559 952.7,558.8 955.7,558.7 958.7,558.6 961.7,558.5 964.8,558.4 967.8,558.3 970.8,558.3 973.8,558.2 976.8,558.2 979.8,558.1 982.8,558.1 985.8,558.1 988.8,558.1 991.8,558.1 994.8,558.1 997.8,558.1 1000.8,558.1 1003.8,558.1 1006.8,558.2 1009.8,558.2 1012.8,558.2 1015.8,558.3 1018.8,558.3 1021.8,558.3 1024.8,558.4 1027.8,558.4 1030.9,558.5 1033.9,558.5 1036.9,558.6 1040,558.6 1043,558.6 1046.1,558.7 1049.1,558.7 1052.2,558.7 1055.3,558.8 1058.3,558.8" stroke="#76B043"/>
</g>
<path d="M730.4,845.8 H1058.55" fill="none" stroke="#000" stroke-width="1.9"/>
<path d="M923.5,641.4 V787.8" fill="none" stroke="#000" stroke-width="3"/>
<path d="M923.5,623.4 L938.5,649.9 L923.5,644 L908.8,649.9 Z" fill="#000"/>
<path d="M923.5,805.8 L938.5,779.3 L923.5,785.2 L908.8,779.3 Z" fill="#000"/>
<text transform="matrix(0.9569 0 0 1 943.8 650.1)" font-size="25.71" stroke="#000" stroke-width="0.3">Sum = 1</text>
<text transform="matrix(0.9569 0 0 1 943.8 799.4)" font-size="25.71" stroke="#000" stroke-width="0.3">Sum = 0</text>
<rect x="1235.8" y="552" width="321.2" height="293.8" fill="none" stroke="#000" stroke-width="1.9"/>
<path d="M1230,845.8 H1235.8" fill="none" stroke="#000" stroke-width="1.9"/>
<text transform="matrix(0.9569 0 0 1 1219.6 854.4)" font-size="25.71" text-anchor="end" stroke="#000" stroke-width="0.3">0</text>
<path d="M1230,787.04 H1235.8" fill="none" stroke="#000" stroke-width="1.9"/>
<text transform="matrix(0.9569 0 0 1 1219.6 795.64)" font-size="25.71" text-anchor="end" stroke="#000" stroke-width="0.3">0.2</text>
<path d="M1230,728.28 H1235.8" fill="none" stroke="#000" stroke-width="1.9"/>
<text transform="matrix(0.9569 0 0 1 1219.6 736.88)" font-size="25.71" text-anchor="end" stroke="#000" stroke-width="0.3">0.4</text>
<path d="M1230,669.52 H1235.8" fill="none" stroke="#000" stroke-width="1.9"/>
<text transform="matrix(0.9569 0 0 1 1219.6 678.12)" font-size="25.71" text-anchor="end" stroke="#000" stroke-width="0.3">0.6</text>
<path d="M1230,610.76 H1235.8" fill="none" stroke="#000" stroke-width="1.9"/>
<text transform="matrix(0.9569 0 0 1 1219.6 619.36)" font-size="25.71" text-anchor="end" stroke="#000" stroke-width="0.3">0.8</text>
<path d="M1230,552 H1235.8" fill="none" stroke="#000" stroke-width="1.9"/>
<text transform="matrix(0.9569 0 0 1 1219.6 560.6)" font-size="25.71" text-anchor="end" stroke="#000" stroke-width="0.3">1.0</text>
<path d="M1235.8,845.8 V853.1" fill="none" stroke="#000" stroke-width="1.9"/>
<text transform="matrix(0.9569 0 0 1 1235.8 881.5)" font-size="25.71" text-anchor="middle" stroke="#000" stroke-width="0.3">0</text>
<path d="M1316.1,845.8 V853.1" fill="none" stroke="#000" stroke-width="1.9"/>
<text transform="matrix(0.9569 0 0 1 1316.1 881.5)" font-size="25.71" text-anchor="middle" stroke="#000" stroke-width="0.3">4</text>
<path d="M1396.4,845.8 V853.1" fill="none" stroke="#000" stroke-width="1.9"/>
<text transform="matrix(0.9569 0 0 1 1396.4 881.5)" font-size="25.71" text-anchor="middle" stroke="#000" stroke-width="0.3">8</text>
<path d="M1476.7,845.8 V853.1" fill="none" stroke="#000" stroke-width="1.9"/>
<text transform="matrix(0.9569 0 0 1 1476.7 881.5)" font-size="25.71" text-anchor="middle" stroke="#000" stroke-width="0.3">12</text>
<path d="M1557,845.8 V853.1" fill="none" stroke="#000" stroke-width="1.9"/>
<text transform="matrix(0.9569 0 0 1 1557 881.5)" font-size="25.71" text-anchor="middle" stroke="#000" stroke-width="0.3">16</text>
<text transform="matrix(0.9569 0 0 1 1396.4 919.8)" font-size="25.71" text-anchor="middle" stroke="#000" stroke-width="0.3">Time (min)</text>
<text transform="translate(1156.9,698.9) rotate(-90) scale(0.96,1)" font-size="25.92" text-anchor="middle" stroke="#000" stroke-width="0.3">Carry (n.u.)</text>
<g clip-path="url(#clipR)" fill="none" stroke-width="3.3" stroke-linejoin="round">
<path d="M1235,844.7 L1430,844.5 1557,844.8" stroke="#A3A3A3"/>
<path d="M1235,842.6 L1400,841.6 1557,840.4" stroke="#A8514F"/>
<path d="M1235,842.8 L1238,842.7 1241.1,842.6 1244.1,842.5 1247.1,842.4 1250.2,842.3 1253.2,842.2 1256.3,842.2 1259.3,842.1 1262.3,842 1265.4,841.9 1268.4,841.8 1271.4,841.7 1274.5,841.6 1277.5,841.6 1280.6,841.5 1283.6,841.4 1286.6,841.3 1289.7,841.2 1292.7,841.2 1295.7,841.1 1298.8,841 1301.8,841 1304.9,840.9 1307.9,840.8 1310.9,840.7 1314,840.7 1317,840.6 1320,840.5 1323.1,840.5 1326.1,840.4 1329.2,840.4 1332.2,840.3 1335.2,840.2 1338.3,840.2 1341.3,840.1 1344.3,840.1 1347.4,840 1350.4,840 1353.5,839.9 1356.5,839.8 1359.5,839.8 1362.6,839.7 1365.6,839.7 1368.6,839.6 1371.7,839.6 1374.7,839.5 1377.8,839.5 1380.8,839.5 1383.8,839.4 1386.9,839.4 1389.9,839.3 1392.9,839.3 1396,839.3 1399,839.2 1402.1,839.2 1405.1,839.1 1408.1,839.1 1411.2,839.1 1414.2,839 1417.2,839 1420.3,839 1423.3,838.9 1426.4,838.9 1429.4,838.9 1432.4,838.8 1435.5,838.8 1438.5,838.8 1441.6,838.8 1444.6,838.7 1447.6,838.7 1450.7,838.7 1453.7,838.7 1456.7,838.7 1459.8,838.6 1462.8,838.6 1465.9,838.6 1468.9,838.6 1471.9,838.6 1475,838.5 1478,838.5 1481,838.5 1484.1,838.5 1487.1,838.5 1490.2,838.5 1493.2,838.5 1496.2,838.5 1499.3,838.4 1502.3,838.4 1505.4,838.4 1508.4,838.4 1511.4,838.4 1514.5,838.4 1517.5,838.4 1520.5,838.4 1523.6,838.4 1526.6,838.4 1529.7,838.4 1532.7,838.4 1535.7,838.4 1538.8,838.4 1541.8,838.4 1544.8,838.4 1547.9,838.4 1550.9,838.4 1554,838.4 1557,838.4" stroke="#4DB6E8"/>
<path d="M1235,842.7 L1430,842.3 1557,841.9" stroke="#7B2C8D"/>
<path d="M1235,842.61 L1238,842.3 1241.1,842 1244.1,841.7 1247.1,841.4 1250.1,841.1 1253.2,840.8 1256.2,840.6 1259.2,840.3 1262.3,840 1265.3,839.8 1268.3,839.5 1271.4,839.3 1274.4,839 1277.4,838.8 1280.5,838.6 1283.5,838.3 1286.5,838.1 1289.6,837.9 1292.6,837.7 1295.6,837.5 1298.7,837.2 1301.7,837 1304.7,836.8 1307.8,836.7 1310.8,836.5 1313.8,836.3 1316.9,836.1 1319.9,835.9 1322.9,835.7 1326,835.6 1329,835.4 1332,835.2 1335.1,835.1 1338.1,834.9 1341.2,834.8 1344.2,834.6 1347.2,834.5 1350.3,834.3 1353.3,834.2 1356.3,834 1359.4,833.9 1362.4,833.8 1365.5,833.6 1368.5,833.5 1371.5,833.4 1374.6,833.3 1377.6,833.1 1380.7,833 1383.7,832.9 1386.7,832.8 1389.8,832.7 1392.8,832.6 1395.9,832.5 1398.9,832.4 1401.9,832.3 1405,832.2 1408,832.1 1411.1,832 1414.1,831.9 1417.1,831.8 1420.2,831.7 1423.2,831.6 1426.3,831.5 1429.3,831.4 1432.3,831.3 1435.4,831.2 1438.4,831.1 1441.5,831 1444.5,831 1447.5,830.9 1450.6,830.8 1453.6,830.7 1456.7,830.6 1459.7,830.5 1462.7,830.5 1465.8,830.4 1468.8,830.3 1471.9,830.2 1474.9,830.1 1478,830 1481,830 1484,829.9 1487.1,829.8 1490.1,829.7 1493.2,829.6 1496.2,829.6 1499.2,829.5 1502.3,829.4 1505.3,829.3 1508.4,829.2 1511.4,829.1 1514.4,829 1517.5,829 1520.5,828.9 1523.6,828.8 1526.6,828.7 1529.6,828.6 1532.7,828.5 1535.7,828.4 1538.8,828.3 1541.8,828.2 1544.8,828.1 1547.9,828 1550.9,827.9 1554,827.8 1557,827.7" stroke="#76B043"/>
<path d="M1235.74,809.77 L1236.4,806.8 1237.1,803.8 1237.7,800.9 1238.4,797.9 1239,794.9 1239.6,792 1240.2,789 1240.7,786 1241.3,783.1 1241.9,780.1 1242.4,777.1 1243,774.2 1243.6,771.2 1244.2,768.2 1244.8,765.3 1245.3,762.3 1246,759.4 1246.6,756.4 1247.2,753.5 1247.9,750.5 1248.6,747.6 1249.3,744.7 1250,741.8 1250.8,738.8 1251.5,735.9 1252.4,733 1253.2,730.1 1254.1,727.3 1255,724.4 1255.9,721.5 1256.9,718.6 1257.8,715.8 1258.8,712.9 1259.8,710 1260.8,707.2 1261.8,704.3 1262.8,701.4 1263.9,698.5 1264.9,695.7 1265.9,692.8 1266.9,689.9 1267.9,687 1268.9,684.1 1269.8,681.2 1270.8,678.3 1271.8,675.4 1272.7,672.4 1273.7,669.5 1274.7,666.6 1275.7,663.8 1276.8,660.9 1277.9,658.1 1279,655.3 1280.2,652.6 1281.5,649.9 1282.9,647.2 1284.4,644.6 1285.9,642.1 1287.6,639.6 1289.4,637.2 1291.2,634.9 1293.1,632.6 1295.2,630.4 1297.3,628.2 1299.4,626.2 1301.7,624.2 1304,622.3 1306.4,620.4 1308.8,618.6 1311.3,616.9 1313.8,615.3 1316.4,613.8 1319.1,612.3 1321.7,610.9 1324.5,609.6 1327.2,608.4 1330,607.2 1332.7,606 1335.6,605 1338.4,603.9 1341.2,602.9 1344.1,602 1347,601.1 1349.9,600.3 1352.8,599.5 1355.8,598.7 1358.7,598 1361.7,597.3 1364.6,596.6 1367.6,596 1370.6,595.4 1373.6,594.8 1376.6,594.2 1379.6,593.7 1382.6,593.2 1385.6,592.7 1388.6,592.2 1391.6,591.7 1394.6,591.3 1397.6,590.8 1400.6,590.4 1403.6,590 1406.6,589.5 1409.6,589.1 1412.6,588.7 1415.6,588.3 1418.6,588 1421.6,587.6 1424.6,587.2 1427.6,586.9 1430.6,586.6 1433.6,586.2 1436.7,585.9 1439.7,585.6 1442.7,585.3 1445.7,585 1448.7,584.7 1451.7,584.5 1454.7,584.2 1457.7,583.9 1460.7,583.7 1463.7,583.5 1466.7,583.2 1469.7,583 1472.7,582.8 1475.7,582.6 1478.7,582.4 1481.7,582.2 1484.7,582 1487.8,581.8 1490.8,581.6 1493.8,581.4 1496.8,581.3 1499.8,581.1 1502.8,581 1505.8,580.8 1508.9,580.7 1511.9,580.5 1514.9,580.4 1517.9,580.3 1520.9,580.2 1524,580 1527,579.9 1530,579.8 1533,579.7 1536.1,579.6 1539.1,579.5 1542.1,579.4 1545.1,579.3 1548.2,579.3 1551.2,579.2 1554.2,579.1 1557.3,579" stroke="#0E9748"/>
<path d="M1235.75,838.5 L1236.6,835.6 1237.4,832.7 1238.2,829.8 1239.1,826.9 1240,824 1240.9,821.1 1241.8,818.2 1242.7,815.3 1243.6,812.4 1244.5,809.5 1245.5,806.7 1246.4,803.8 1247.4,800.9 1248.4,798.1 1249.4,795.2 1250.4,792.3 1251.4,789.5 1252.5,786.6 1253.5,783.8 1254.6,781 1255.7,778.1 1256.8,775.3 1257.9,772.5 1259,769.7 1260.2,766.8 1261.3,764 1262.5,761.2 1263.6,758.4 1264.8,755.6 1266,752.9 1267.2,750.1 1268.5,747.3 1269.7,744.5 1271,741.8 1272.2,739 1273.5,736.3 1274.8,733.5 1276.1,730.8 1277.4,728.1 1278.8,725.4 1280.1,722.6 1281.5,719.9 1282.8,717.2 1284.2,714.5 1285.6,711.9 1287.1,709.2 1288.5,706.5 1290,703.9 1291.4,701.2 1292.9,698.6 1294.4,696 1296,693.4 1297.6,690.8 1299.2,688.3 1300.8,685.7 1302.4,683.2 1304.1,680.7 1305.8,678.2 1307.6,675.8 1309.4,673.3 1311.2,670.9 1313,668.5 1314.9,666.2 1316.8,663.8 1318.8,661.5 1320.8,659.3 1322.8,657 1324.9,654.8 1327,652.6 1329.2,650.4 1331.4,648.3 1333.6,646.2 1335.8,644.2 1338.1,642.2 1340.4,640.2 1342.7,638.2 1345.1,636.3 1347.5,634.5 1349.9,632.7 1352.3,630.9 1354.8,629.2 1357.3,627.5 1359.8,625.8 1362.3,624.2 1364.9,622.6 1367.4,621.1 1370,619.6 1372.6,618.2 1375.3,616.7 1377.9,615.3 1380.6,613.9 1383.3,612.5 1386,611.2 1388.7,609.8 1391.4,608.4 1394.2,607 1396.9,605.7 1399.7,604.3 1402.5,603 1405.3,601.7 1408.1,600.4 1411,599.2 1413.8,598.1 1416.7,597 1419.6,596 1422.4,595 1425.3,594.2 1428.2,593.4 1431.2,592.7 1434.1,592.1 1437,591.5 1440,590.9 1442.9,590.4 1445.9,590 1448.8,589.6 1451.8,589.2 1454.8,588.8 1457.7,588.5 1460.7,588.1 1463.7,587.8 1466.7,587.4 1469.7,587.1 1472.7,586.8 1475.7,586.4 1478.7,586.1 1481.8,585.7 1484.8,585.4 1487.8,585 1490.8,584.7 1493.8,584.3 1496.9,584 1499.9,583.6 1502.9,583.3 1505.9,583 1509,582.6 1512,582.3 1515,582 1518.1,581.7 1521.1,581.4 1524.1,581.1 1527.1,580.8 1530.2,580.5 1533.2,580.3 1536.2,580 1539.2,579.8 1542.2,579.6 1545.3,579.4 1548.3,579.2 1551.3,579 1554.3,578.9 1557.3,578.7" stroke="#E51F25"/>
<path d="M1235.75,832.45 L1236.6,829.5 1237.5,826.6 1238.4,823.7 1239.3,820.8 1240.2,817.9 1241.2,815 1242.1,812.1 1243.1,809.2 1244,806.3 1245,803.5 1246,800.6 1247,797.7 1248,794.9 1249.1,792 1250.1,789.2 1251.2,786.4 1252.3,783.5 1253.4,780.7 1254.5,777.9 1255.7,775.1 1256.8,772.3 1258,769.5 1259.2,766.8 1260.4,764 1261.6,761.2 1262.9,758.5 1264.2,755.8 1265.5,753 1266.8,750.3 1268.2,747.6 1269.5,744.9 1270.9,742.3 1272.4,739.6 1273.8,736.9 1275.3,734.3 1276.8,731.7 1278.3,729.1 1279.9,726.5 1281.5,723.9 1283.1,721.3 1284.7,718.7 1286.4,716.2 1288.1,713.6 1289.8,711.1 1291.6,708.6 1293.4,706.2 1295.2,703.7 1297.1,701.3 1299,698.9 1300.9,696.5 1302.9,694.2 1304.9,691.9 1306.9,689.6 1309,687.4 1311.1,685.2 1313.3,683 1315.4,680.9 1317.7,678.8 1319.9,676.7 1322.3,674.7 1324.6,672.8 1327,670.9 1329.5,669.1 1331.9,667.4 1334.5,665.8 1337,664.2 1339.7,662.7 1342.3,661.3 1345,659.9 1347.7,658.6 1350.4,657.4 1353.2,656.2 1356,655 1358.8,653.9 1361.6,652.9 1364.5,651.9 1367.3,650.9 1370.2,650 1373.1,649.1 1375.9,648.2 1378.8,647.3 1381.7,646.5 1384.6,645.7 1387.5,644.8 1390.4,644.1 1393.3,643.3 1396.2,642.5 1399.1,641.8 1402.1,641 1405,640.3 1407.9,639.5 1410.8,638.8 1413.8,638.1 1416.7,637.3 1419.6,636.6 1422.6,635.8 1425.5,635.1 1428.5,634.4 1431.4,633.6 1434.4,632.9 1437.3,632.1 1440.3,631.4 1443.3,630.6 1446.2,629.9 1449.2,629.2 1452.2,628.5 1455.1,627.8 1458.1,627.1 1461.1,626.4 1464.1,625.7 1467.1,625 1470,624.4 1473,623.8 1476,623.2 1479,622.6 1482,622 1485,621.4 1488,620.9 1491,620.4 1494,619.9 1497,619.4 1500,618.9 1503,618.5 1506,618.1 1509,617.7 1512,617.3 1515,617 1518,616.7 1521.1,616.4 1524.1,616.1 1527.1,615.9 1530.1,615.7 1533.1,615.5 1536.1,615.3 1539.2,615.2 1542.2,615.1 1545.2,615 1548.2,615 1551.2,614.9 1554.2,615 1557.3,615" stroke="#4F4F4F"/>
<path d="M1235.75,808.27 L1236.3,805.2 1236.9,802.2 1237.5,799.2 1238,796.1 1238.6,793.2 1239.2,790.2 1239.8,787.2 1240.4,784.2 1241,781.3 1241.7,778.4 1242.3,775.4 1242.9,772.5 1243.6,769.6 1244.2,766.7 1244.9,763.7 1245.5,760.8 1246.2,757.9 1246.9,755 1247.6,752.1 1248.3,749.2 1249,746.3 1249.7,743.3 1250.4,740.4 1251.1,737.5 1251.8,734.5 1252.5,731.6 1253.3,728.6 1254,725.6 1254.8,722.7 1255.5,719.7 1256.3,716.7 1257,713.7 1257.8,710.8 1258.6,707.8 1259.4,704.8 1260.2,701.8 1261,698.9 1261.9,695.9 1262.7,692.9 1263.6,690 1264.4,687 1265.3,684.1 1266.2,681.2 1267.1,678.2 1268,675.3 1268.9,672.4 1269.8,669.5 1270.8,666.7 1271.7,663.8 1272.7,661 1273.7,658.2 1274.8,655.4 1275.9,652.6 1277,649.8 1278.2,647.1 1279.4,644.4 1280.7,641.7 1282.1,639 1283.5,636.4 1285.1,633.8 1286.6,631.2 1288.3,628.7 1290.1,626.2 1291.9,623.7 1293.8,621.3 1295.7,618.9 1297.8,616.6 1299.9,614.4 1302,612.2 1304.3,610.1 1306.5,608.2 1308.9,606.3 1311.3,604.5 1313.7,602.8 1316.2,601.2 1318.8,599.7 1321.4,598.3 1324,597 1326.7,595.8 1329.4,594.7 1332.1,593.6 1334.9,592.6 1337.7,591.6 1340.6,590.6 1343.4,589.7 1346.3,588.8 1349.3,587.9 1352.2,587.1 1355.1,586.2 1358.1,585.4 1361.1,584.5 1364.1,583.7 1367.1,582.9 1370.1,582.1 1373.1,581.3 1376.1,580.5 1379.1,579.9 1382.1,579.2 1385.1,578.6 1388.1,578.1 1391.2,577.6 1394.2,577.2 1397.2,576.7 1400.2,576.4 1403.2,576 1406.2,575.7 1409.2,575.4 1412.2,575.2 1415.2,574.9 1418.3,574.7 1421.3,574.6 1424.3,574.4 1427.3,574.3 1430.3,574.2 1433.3,574.1 1436.3,574 1439.3,573.9 1442.3,573.9 1445.4,573.8 1448.4,573.8 1451.4,573.7 1454.4,573.7 1457.4,573.7 1460.4,573.6 1463.4,573.6 1466.5,573.6 1469.5,573.5 1472.5,573.5 1475.5,573.4 1478.5,573.3 1481.5,573.3 1484.6,573.2 1487.6,573.1 1490.6,573 1493.6,572.9 1496.6,572.8 1499.7,572.7 1502.7,572.6 1505.7,572.5 1508.7,572.3 1511.8,572.2 1514.8,572.1 1517.8,571.9 1520.9,571.8 1523.9,571.6 1526.9,571.5 1529.9,571.3 1533,571.1 1536,571 1539.1,570.8 1542.1,570.6 1545.1,570.4 1548.2,570.2 1551.2,570 1554.2,569.8 1557.3,569.6" stroke="#4259A9"/>
</g>
<path d="M1418.5,661.3 V809.6" fill="none" stroke="#000" stroke-width="3"/>
<path d="M1418.5,643.3 L1433.5,669.8 L1418.5,663.9 L1403.8,669.8 Z" fill="#000"/>
<path d="M1418.5,827.6 L1433.5,801.1 L1418.5,807 L1403.8,801.1 Z" fill="#000"/>
<text transform="matrix(0.9569 0 0 1 1435.9 661.8)" font-size="25.71" stroke="#000" stroke-width="0.3">Carry = 1</text>
<text transform="matrix(0.9569 0 0 1 1435.9 819.3)" font-size="25.71" stroke="#000" stroke-width="0.3">Carry = 0</text>
<text transform="matrix(0.9569 0 0 1 1568.8 577.9)" font-size="25.71" fill="#7B2C8D" stroke="#7B2C8D" stroke-width="0.3">000</text>
<text transform="matrix(0.9569 0 0 1 1568.8 607.3)" font-size="25.71" fill="#6CAB3C" stroke="#6CAB3C" stroke-width="0.3">001</text>
<text transform="matrix(0.9569 0 0 1 1568.8 636.7)" font-size="25.71" fill="#4DB6E8" stroke="#4DB6E8" stroke-width="0.3">010</text>
<text transform="matrix(0.9569 0 0 1 1568.8 666.1)" font-size="25.71" fill="#4F4F4F" stroke="#4F4F4F" stroke-width="0.3">011</text>
<text transform="matrix(0.9569 0 0 1 1568.8 695.5)" font-size="25.71" fill="#A8514F" stroke="#A8514F" stroke-width="0.3">100</text>
<text transform="matrix(0.9569 0 0 1 1568.8 724.9)" font-size="25.71" fill="#E51F25" stroke="#E51F25" stroke-width="0.3">101</text>
<text transform="matrix(0.9569 0 0 1 1568.8 754.3)" font-size="25.71" fill="#4259A9" stroke="#4259A9" stroke-width="0.3">110</text>
<text transform="matrix(0.9569 0 0 1 1568.8 783.7)" font-size="25.71" fill="#2DA55B" stroke="#2DA55B" stroke-width="0.3">111</text>
<text transform="matrix(0.9569 0 0 1 1573.7 814.3)" font-size="25.71" fill="#A3A3A3" stroke="#A3A3A3" stroke-width="0.3">Blank</text>
</g>
</svg>
</body>
</html>
